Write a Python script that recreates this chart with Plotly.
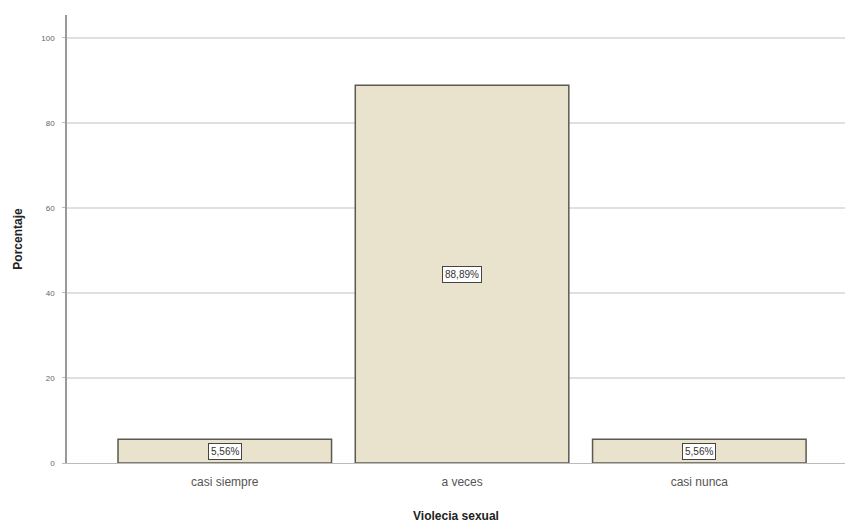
import plotly.graph_objects as go

categories = ["casi siempre", "a veces", "casi nunca"]
values = [5.56, 88.89, 5.56]
labels = ["5,56%", "88,89%", "5,56%"]
y_ticks = [0, 20, 40, 60, 80, 100]

fig = go.Figure()
fig.add_trace(go.Bar(
    x=categories, y=values, width=0.9,
    marker=dict(color="#E9E2CC", line=dict(color="#5a5a52", width=1.5)),
    hoverinfo="skip",
))

for c, v, t in zip(categories, values, labels):
    fig.add_annotation(
        x=c, y=v / 2, text=t, showarrow=False,
        font=dict(family="Liberation Sans Narrow, Liberation Sans", size=10, color="#333"),
        bgcolor="white", bordercolor="#444", borderwidth=1, borderpad=2,
    )

fig.update_layout(
    width=845, height=526,
    margin=dict(l=67, r=0, t=15, b=63),
    paper_bgcolor="white", plot_bgcolor="white",
    showlegend=False,
    font=dict(family="Liberation Sans", color="#444"),
    xaxis=dict(
        range=[-0.665, 2.614],
        showline=True, linecolor="#bbbbbb", linewidth=1,
        showgrid=False, ticks="",
        ticklabelstandoff=8,
        tickfont=dict(size=12, color="#555"),
        title=dict(text="<b>Violecia sexual</b>", font=dict(size=12, color="#222"), standoff=23),
    ),
    yaxis=dict(
        range=[0, 105.4],
        tickvals=y_ticks,
        showline=True, linecolor="#999999", linewidth=1.5,
        showgrid=True, gridcolor="#e0e0e0", gridwidth=1.5,
        ticks="outside", ticklen=3, tickcolor="#bbbbbb",
        ticklabelstandoff=6,
        tickfont=dict(size=8, color="#666"),
        zeroline=False,
        title=dict(text="<b>Porcentaje</b>", font=dict(size=12, color="#222"), standoff=16),
    ),
)

fig.write_html(
    "out.html",
    config={"displayModeBar": False},
    post_script="document.body.style.margin='0';document.body.style.overflow='hidden';",
)
